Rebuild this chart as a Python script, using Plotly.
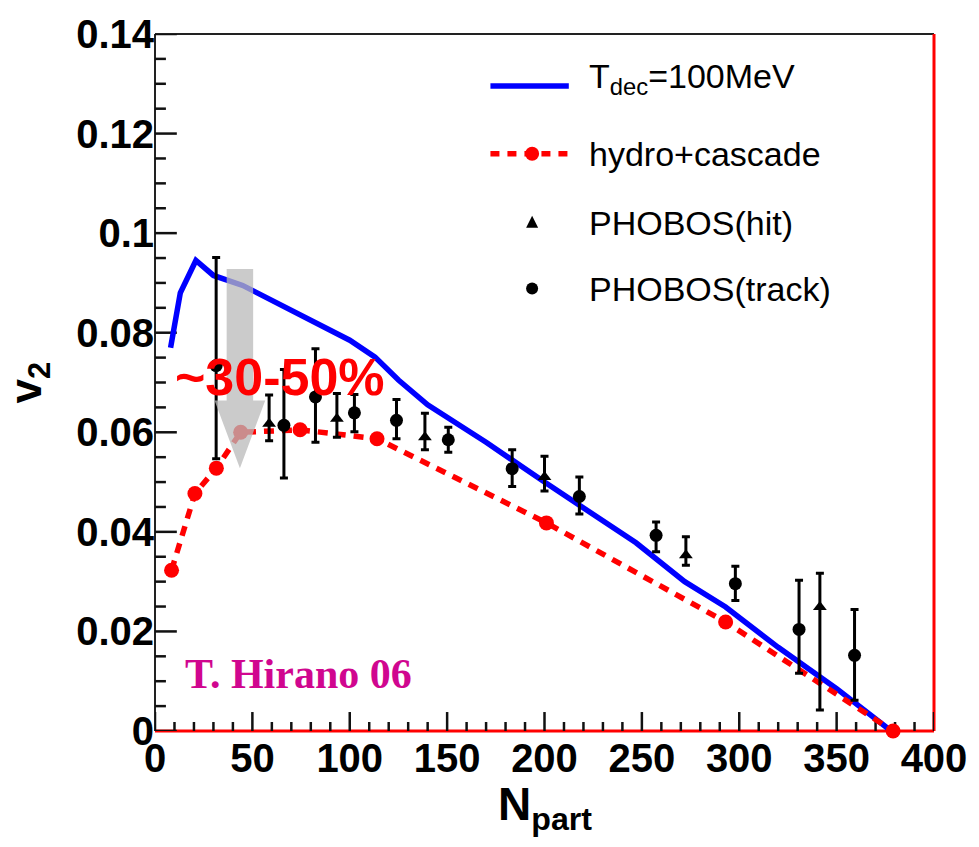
import plotly.graph_objects as go

# ---------------- data ----------------
hydro_x = [8, 13, 21, 30, 45, 60, 80, 100, 113, 125, 140, 170, 200, 230, 247, 272, 293, 320, 350, 378]
hydro_y = [0.077, 0.088, 0.0945, 0.0915, 0.0895, 0.0865, 0.0825, 0.0785, 0.0751, 0.0705,
           0.0655, 0.058, 0.050, 0.042, 0.0378, 0.030, 0.0249, 0.0168, 0.0085, 0.0]

casc_x = [8.5, 20.5, 31.5, 44, 74.5, 114, 201, 293, 379]
casc_y = [0.0323, 0.0477, 0.0528, 0.0600, 0.0605, 0.0587, 0.0418, 0.0219, 0.0]

track_x = [31.4, 66.2, 82.4, 102.4, 124, 150.6, 183.4, 217.9, 257.3, 298, 330.7, 359.2]
track_y = [0.0734, 0.0614, 0.0671, 0.0639, 0.0624, 0.0585, 0.0527, 0.0471, 0.0393, 0.0296, 0.0204, 0.0152]
track_up = [0.0217, 0.0112, 0.0097, 0.0037, 0.0042, 0.0025, 0.0038, 0.0039, 0.0027, 0.0035, 0.0099, 0.0092]
track_dn = [0.0187, 0.0106, 0.0091, 0.0038, 0.0037, 0.0025, 0.0036, 0.0035, 0.0033, 0.0034, 0.0088, 0.0090]

hit_x = [58.6, 93.4, 138.6, 200, 272.6, 341.4]
hit_y = [0.0617, 0.0627, 0.0590, 0.0510, 0.0353, 0.0249]
hit_up = [0.0058, 0.0051, 0.0048, 0.0042, 0.0037, 0.0068]
hit_dn = [0.0034, 0.0037, 0.0025, 0.0028, 0.0020, 0.0207]

x_tickvals = [0, 50, 100, 150, 200, 250, 300, 350, 400]
x_ticktext = ["0", "50", "100", "150", "200", "250", "300", "350", "400"]
x_minor_vals = [v for v in range(0, 401, 10) if v % 50 != 0]
y_tickvals = [0, 0.02, 0.04, 0.06, 0.08, 0.10, 0.12, 0.14]
y_ticktext = ["0", "0.02", "0.04", "0.06", "0.08", "0.1", "0.12", "0.14"]
y_minor_vals = [round(i * 0.005, 3) for i in range(0, 29) if i % 4 != 0]

legend_labels = ["T<sub>dec</sub>=100MeV", "hydro+cascade", "PHOBOS(hit)", "PHOBOS(track)"]

# ---------------- figure ----------------
SANS = "Liberation Sans, Arial, Helvetica, sans-serif"
XR, YR = [0, 400], [0, 0.14]
PW, PH = 979 - 155 - 39, 847 - 33 - 116   # plot area in px


def px_to_x(p):
    return p * (XR[1] - XR[0]) / PW


def px_to_y(p):
    return p * (YR[1] - YR[0]) / PH


fig = go.Figure()

# inside tick marks (axis decoration) built from the tick arrays
tx_, ty_ = [], []
for vals, ln in ((x_tickvals, 19), (x_minor_vals, 9)):
    for v in vals:
        tx_ += [v, v, None]
        ty_ += [YR[0], YR[0] + px_to_y(ln), None]
for vals, ln in ((y_tickvals, 22), (y_minor_vals, 11)):
    for v in vals:
        tx_ += [XR[0], XR[0] + px_to_x(ln), None]
        ty_ += [v, v, None]
fig.add_trace(go.Scatter(x=tx_, y=ty_, mode="lines", line=dict(color="#111111", width=2.5),
                         hoverinfo="skip", showlegend=False))

fig.add_trace(go.Scatter(x=hydro_x, y=hydro_y, mode="lines",
                         line=dict(color="#0000FF", width=5.5), showlegend=False))
fig.add_trace(go.Scatter(x=casc_x, y=casc_y, mode="lines+markers", cliponaxis=False,
                         line=dict(color="#FF0000", width=5.5, dash="10px,8px"),
                         marker=dict(color="#FF0000", size=15, symbol="circle"),
                         showlegend=False))
fig.add_trace(go.Scatter(x=hit_x, y=hit_y, mode="markers",
                         marker=dict(color="black", size=12, symbol="triangle-up"),
                         error_y=dict(type="data", symmetric=False, array=hit_up, arrayminus=hit_dn,
                                      color="black", thickness=3, width=4),
                         showlegend=False))
fig.add_trace(go.Scatter(x=track_x, y=track_y, mode="markers",
                         marker=dict(color="black", size=13, symbol="circle"),
                         error_y=dict(type="data", symmetric=False, array=track_up, arrayminus=track_dn,
                                      color="black", thickness=3, width=4),
                         showlegend=False))

shapes = []
# gray arrow (annotation graphic)
shapes.append(dict(type="path", xref="x", yref="y",
                   path="M 36.8 0.0928 L 50.4 0.0928 L 50.4 0.0664 L 56.6 0.0664 L 43.6 0.0528 "
                        "L 30.6 0.0664 L 36.8 0.0664 Z",
                   fillcolor="rgb(185,185,185)", opacity=0.75, line=dict(width=0), layer="above"))
# frame: top black, right red, bottom red, left black
shapes.append(dict(type="line", xref="paper", yref="paper", x0=0, x1=1, y0=1, y1=1,
                   line=dict(color="#222222", width=2), layer="below"))
shapes.append(dict(type="line", xref="paper", yref="paper", x0=1, x1=1, y0=0, y1=1,
                   line=dict(color="#FF0000", width=3), layer="below"))
shapes.append(dict(type="line", xref="paper", yref="paper", x0=0, x1=1, y0=0, y1=0,
                   line=dict(color="#FF0000", width=3), layer="below"))
shapes.append(dict(type="line", xref="paper", yref="paper", x0=0, x1=0, y0=0, y1=1,
                   line=dict(color="#222222", width=2), layer="below"))

# custom legend
lx0, lx1 = 0.4306, 0.5312
ly = [0.9255, 0.8281, 0.7292, 0.6347]
shapes.append(dict(type="line", xref="paper", yref="paper", x0=lx0, x1=lx1, y0=ly[0], y1=ly[0],
                   line=dict(color="#0000FF", width=5.5)))
shapes.append(dict(type="line", xref="paper", yref="paper", x0=lx0, x1=lx1, y0=ly[1], y1=ly[1],
                   line=dict(color="#FF0000", width=5.5, dash="9px,8px")))
mx = 0.4841
shapes.append(dict(type="circle", xref="paper", yref="paper", xsizemode="pixel", ysizemode="pixel",
                   xanchor=mx, yanchor=ly[1], x0=-7, x1=7, y0=-7, y1=7,
                   fillcolor="#FF0000", line=dict(width=0)))
shapes.append(dict(type="path", xref="paper", yref="paper", xsizemode="pixel", ysizemode="pixel",
                   xanchor=mx, yanchor=ly[2], path="M -6 -5 L 6 -5 L 0 7 Z",
                   fillcolor="black", line=dict(width=0)))
shapes.append(dict(type="circle", xref="paper", yref="paper", xsizemode="pixel", ysizemode="pixel",
                   xanchor=mx, yanchor=ly[3], x0=-6, x1=6, y0=-6, y1=6,
                   fillcolor="black", line=dict(width=0)))

annotations = []
tx = 0.5541
for i, lab in enumerate(legend_labels):
    annotations.append(dict(xref="paper", yref="paper", x=tx, y=ly[i] + (0.0 if i else 0.010),
                            xanchor="left", yanchor="middle", text=lab, showarrow=False,
                            font=dict(family=SANS, size=34, color="black")))
annotations.append(dict(xref="paper", yref="paper", x=0.1605, y=0.508, xanchor="center",
                        yanchor="middle", text="~30-50%", showarrow=False,
                        font=dict(family=SANS, size=52, color="#FF0000", weight="bold")))
annotations.append(dict(xref="paper", yref="paper", x=0.1847, y=0.082, xanchor="center",
                        yanchor="middle", text="T. Hirano 06", showarrow=False,
                        font=dict(family="Liberation Serif, Times New Roman, serif", size=42,
                                  color="#D0068F", weight="bold")))
# axis titles
annotations.append(dict(xref="paper", yref="paper", x=0.5, y=-0.11, xanchor="center",
                        yanchor="middle", text="N<sub>part</sub>", showarrow=False,
                        font=dict(family=SANS, size=46, color="black", weight="bold")))
annotations.append(dict(xref="paper", yref="paper", x=-0.163, y=0.5, xanchor="center",
                        yanchor="middle", text="v<sub>2</sub>", showarrow=False, textangle=-90,
                        font=dict(family=SANS, size=44, color="black", weight="bold")))

fig.update_layout(
    width=979, height=847,
    margin=dict(l=155, r=39, t=33, b=116),
    paper_bgcolor="white", plot_bgcolor="white",
    shapes=shapes, annotations=annotations, showlegend=False,
)
fig.update_xaxes(range=XR, tickmode="array", tickvals=x_tickvals, ticktext=x_ticktext,
                 ticks="", showline=False, showgrid=False, zeroline=False,
                 ticklabeloverflow="allow",
                 tickfont=dict(family=SANS, size=40, color="black", weight="bold"))
fig.update_yaxes(range=YR, tickmode="array", tickvals=y_tickvals, ticktext=y_ticktext,
                 ticks="", showline=False, showgrid=False, zeroline=False,
                 ticklabeloverflow="allow",
                 tickfont=dict(family=SANS, size=40, color="black", weight="bold"))

fig.write_html("out.html")
